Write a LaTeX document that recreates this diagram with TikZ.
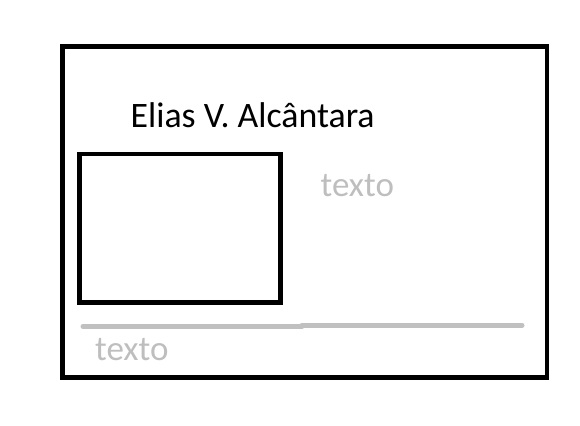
\documentclass[tikz,border=0pt]{standalone}
\usepackage{fontspec}
\setmainfont{Carlito}
\definecolor{rulegray}{RGB}{192,192,192}
\definecolor{hintgray}{RGB}{190,190,190}
\begin{document}
\begin{tikzpicture}[
		x=1pt, y=-1pt,
		frame/.style={draw=black, line width=4.5pt},
		rule/.style={draw=rulegray, line width=5pt, line cap=round},
		title/.style={font=\fontsize{35.8}{40}\selectfont, anchor=base west, inner sep=0pt},
		hint/.style={font=\fontsize{35}{40}\selectfont, text=hintgray, anchor=base west, inner sep=0pt}
	]
	\useasboundingbox (0,0) rectangle (580,425);
	\draw[frame] (62.5,46.5) rectangle (547,377.5);
	\draw[frame] (79.5,154) rectangle (280.5,302.5);

	\node[title] (name) at (130.5,127) {Elias V. Alcântara};
	\node[hint] (textright) at (320.5,196.7) {texto};
	\node[hint] (textbottom) at (95,360) {texto};

	\coordinate (ruleA) at (83,326.2);
	\coordinate (ruleB) at (302,326.2);
	\coordinate (ruleC) at (302,325.2);
	\coordinate (ruleD) at (522,325.2);
	\draw[rule] (ruleA) -- (ruleB);
	\draw[rule] (ruleC) -- (ruleD);
\end{tikzpicture}
\end{document}
